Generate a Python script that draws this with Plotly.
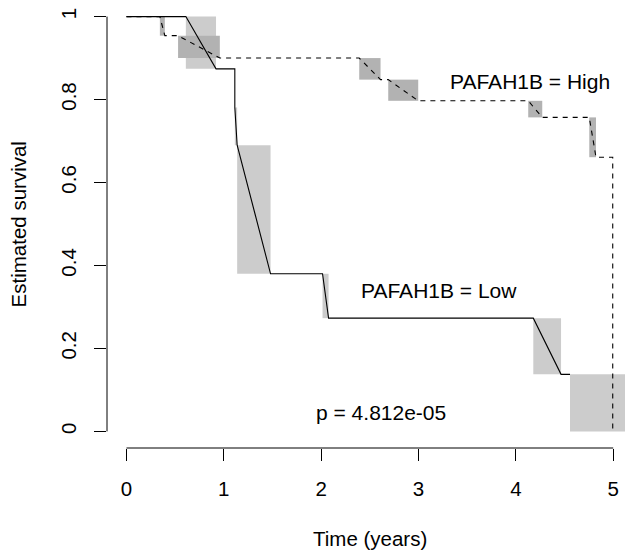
import plotly.graph_objects as go

# ---- data ----
# Each drop: start time, end time, survival before, survival after
low_t0 = [0.610, 1.113, 1.113, 1.137, 2.014, 4.179, 4.556]
low_t1 = [0.920, 1.113, 1.137, 1.480, 2.076, 4.464, 5.300]
low_s0 = [1.000, 0.874, 0.781, 0.690, 0.380, 0.273, 0.1376]
low_s1 = [0.874, 0.781, 0.690, 0.380, 0.273, 0.1376, 0.000]
low_line_end = 4.556   # solid line stops where the last box starts

high_t0 = [0.343, 0.530, 2.391, 2.689, 4.127, 4.754, 4.995]
high_t1 = [0.394, 0.959, 2.610, 2.997, 4.271, 4.823, 4.995]
high_s0 = [1.000, 0.954, 0.900, 0.848, 0.797, 0.757, 0.661]
high_s1 = [0.954, 0.900, 0.848, 0.797, 0.757, 0.661, 0.000]

x_ticks = [0, 1, 2, 3, 4, 5]
x_tick_labels = ["0", "1", "2", "3", "4", "5"]
y_ticks = [0, 0.2, 0.4, 0.6, 0.8, 1]
y_tick_labels = ["0", "0.2", "0.4", "0.6", "0.8", "1"]

label_high = "PAFAH1B = High"
label_low = "PAFAH1B = Low"
p_text = "p = 4.812e-05"

FONT = "Liberation Sans, Arial, sans-serif"
LOW_BOX = "#CCCCCC"
HIGH_BOX = "#B2B2B2"


def path(t0, t1, s0, s1, end=None):
    xs, ys = [0.0], [1.0]
    for a, b, u, v in zip(t0, t1, s0, s1):
        if end is not None and a >= end:
            xs.append(a); ys.append(u)
            break
        xs += [a, b]
        ys += [u, v]
    return xs, ys


fig = go.Figure()
shapes = []
for a, b, u, v in zip(low_t0, low_t1, low_s0, low_s1):
    if b > a:
        shapes.append(dict(type="rect", xref="x", yref="y", x0=a, x1=b, y0=v, y1=u,
                           fillcolor=LOW_BOX, line=dict(width=0), layer="below"))
for a, b, u, v in zip(high_t0, high_t1, high_s0, high_s1):
    if b > a:
        shapes.append(dict(type="rect", xref="x", yref="y", x0=a, x1=b, y0=v, y1=u,
                           fillcolor=HIGH_BOX, line=dict(width=0), layer="below"))

# axis lines, R style (only over the tick span)
shapes.append(dict(type="line", xref="x", yref="paper", x0=0, x1=5, y0=0, y1=0,
                   line=dict(color="black", width=1)))
shapes.append(dict(type="line", xref="paper", yref="y", x0=0, x1=0, y0=0, y1=1,
                   line=dict(color="black", width=1)))

hx, hy = path(high_t0, high_t1, high_s0, high_s1)
fig.add_trace(go.Scatter(x=hx, y=hy, mode="lines",
                         line=dict(color="black", width=1.1, dash="5px,5px"),
                         hoverinfo="skip", showlegend=False))
lx, ly = path(low_t0, low_t1, low_s0, low_s1, end=low_line_end)
fig.add_trace(go.Scatter(x=lx, y=ly, mode="lines",
                         line=dict(color="black", width=1.1),
                         hoverinfo="skip", showlegend=False))

annotations = [
    dict(text=label_high, x=4.145, y=0.843, xref="x", yref="y", showarrow=False,
         font=dict(size=21, family=FONT, color="black")),
    dict(text=label_low, x=3.213, y=0.340, xref="x", yref="y", showarrow=False,
         font=dict(size=21, family=FONT, color="black")),
    dict(text=p_text, x=2.614, y=0.045, xref="x", yref="y", showarrow=False,
         font=dict(size=21, family=FONT, color="black")),
    dict(text="Time (years)", x=2.5, y=-0.201, xref="x", yref="paper", showarrow=False,
         yanchor="middle", font=dict(size=20.5, family=FONT, color="black")),
    dict(text="Estimated survival", x=-0.171, y=0.5, xref="paper", yref="y",
         showarrow=False, textangle=-90, xanchor="center", yanchor="middle",
         font=dict(size=20.5, family=FONT, color="black")),
]

fig.update_layout(
    width=625, height=554,
    margin=dict(l=107, r=0, t=0, b=106, autoexpand=False),
    paper_bgcolor="white", plot_bgcolor="white",
    shapes=shapes, annotations=annotations,
    font=dict(family=FONT, size=20.5, color="black"),
    xaxis=dict(range=[-0.2, 5.121], tickvals=x_ticks, ticktext=x_tick_labels,
               ticks="outside", ticklen=12, tickcolor="black", tickwidth=1,
               showgrid=False, zeroline=False, showline=False, automargin=False,
               ticklabelstandoff=10,
               tickfont=dict(size=20.5, family=FONT, color="black")),
    yaxis=dict(range=[-0.04, 1.04], tickvals=y_ticks, ticktext=y_tick_labels,
               ticks="outside", ticklen=12, tickcolor="black", tickwidth=1,
               showgrid=False, zeroline=False, showline=False, tickangle=-90,
               automargin=False, ticklabelstandoff=10,
               tickfont=dict(size=20.5, family=FONT, color="black")),
)

fig.write_html(
    "out.html",
    config={"displayModeBar": False},
    post_script="document.body.style.margin='0';document.body.style.overflow='hidden';",
)
